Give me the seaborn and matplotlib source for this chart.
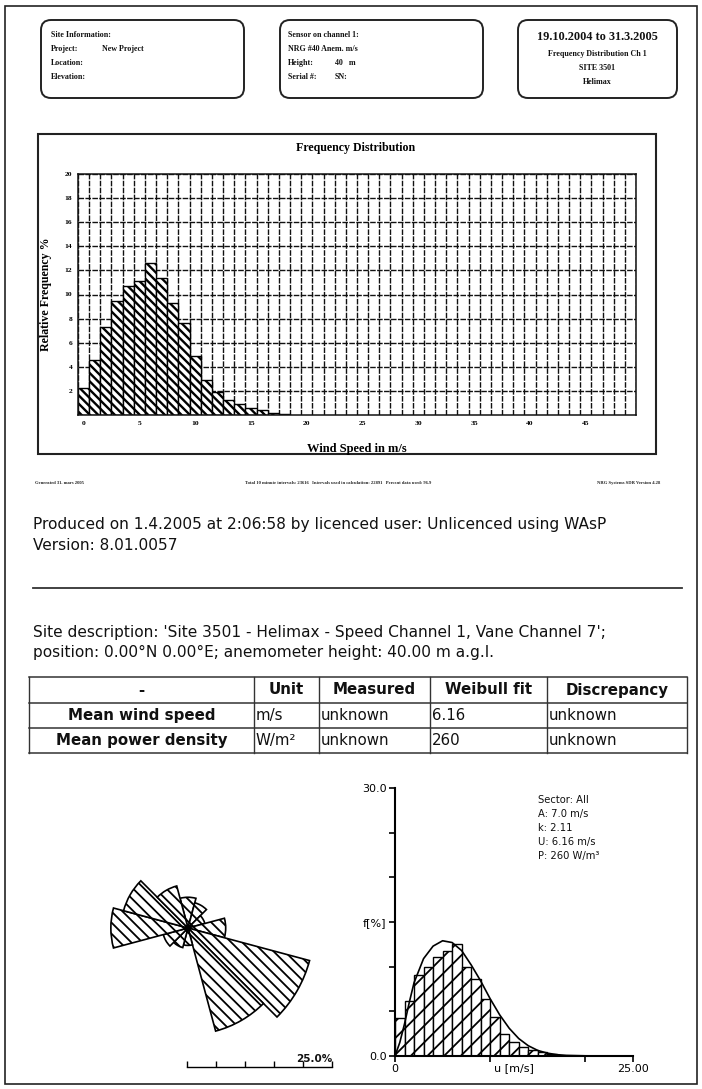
import numpy as np
import matplotlib
matplotlib.use("Agg")
import matplotlib.pyplot as plt
import seaborn as sns
from matplotlib.patches import FancyBboxPatch, Rectangle

# ---------------- data ----------------
freq_bins = list(range(19))                      # wind speed bin (m/s)
freq_values = [2.2, 4.6, 7.3, 9.5, 10.7, 11.1, 12.6, 11.4, 9.3, 7.6,
               4.9, 2.9, 1.9, 1.25, 0.9, 0.6, 0.4, 0.2, 0.1]
freq_xticks = [0, 5, 10, 15, 20, 25, 30, 35, 40, 45]
freq_yticks = [2, 4, 6, 8, 10, 12, 14, 16, 18, 20]
freq_nbins = 50

rose_dirs = [0, 30, 60, 90, 120, 150, 180, 210, 240, 270, 300, 330]
rose_freq = [5.3, 4.5, 3.0, 6.5, 21.7, 18.4, 3.0, 3.5, 4.4, 13.3, 11.5, 7.5]
rose_scale_ticks = [0, 5, 10, 15, 20, 25]

hist_speed = [0.5, 1.5, 2.5, 3.5, 4.5, 5.5, 6.5, 7.5, 8.5, 9.5, 10.5,
              11.5, 12.5, 13.5, 14.5, 15.5, 16.5]
hist_freq = [4.30, 6.13, 9.04, 9.98, 11.10, 11.73, 12.52, 9.98, 8.67, 6.43,
             4.37, 2.50, 1.57, 1.01, 0.71, 0.45, 0.26]
weib_u = [0, 0.5, 1, 1.5, 2, 3, 4, 5, 6, 7, 8, 9, 10, 11, 12, 13, 14, 15,
          16, 17, 18, 20, 25]
weib_f = [0, 1.5, 3.6, 6.0, 8.2, 10.9, 12.3, 12.9, 12.7, 11.8, 10.2, 8.4,
          6.4, 4.6, 3.1, 1.95, 1.15, 0.62, 0.32, 0.15, 0.07, 0.02, 0.0]
hist_yticks = [0, 5, 10, 15, 20, 25, 30]
hist_ylabels = ["0.0", "", "", "f[%]", "", "", "30.0"]
hist_xticks = [0, 10, 20, 25]
hist_xlabels = ["0", "", "", "25.00"]

weibull_text = ["Sector: All", "A: 7.0 m/s", "k: 2.11", "U: 6.16 m/s", "P: 260 W/m\u00b3"]

table_header = ["-", "Unit", "Measured", "Weibull fit", "Discrepancy"]
table_rows = [["Mean wind speed", "m/s", "unknown", "6.16", "unknown"],
              ["Mean power density", "W/m\u00b2", "unknown", "260", "unknown"]]

SERIF = ["Liberation Serif", "DejaVu Serif"]
SANS = ["DejaVu Sans"]

plt.rcParams["hatch.linewidth"] = 1.4
plt.rcParams["hatch.color"] = "black"
W, H = 702, 1089
fig = plt.figure(figsize=(W / 100, H / 100), dpi=100)
fig.patch.set_facecolor("white")

def frac(x0, y0, x1, y1):
    return [x0 / W, 1 - y1 / H, (x1 - x0) / W, (y1 - y0) / H]

# overlay in pixel coordinates
ov = fig.add_axes([0, 0, 1, 1])
ov.set_xlim(0, W)
ov.set_ylim(H, 0)
ov.axis("off")

ov.add_patch(Rectangle((5, 6), 692, 1078, fill=False, lw=1.2, ec="#222"))

# header boxes
for (x0, x1) in [(41, 244), (280, 483), (518, 677)]:
    ov.add_patch(FancyBboxPatch((x0, 20), x1 - x0, 78,
                                boxstyle="round,pad=0,rounding_size=10",
                                fill=False, lw=1.4, ec="#222"))
bt = dict(family=SERIF, weight="bold", fontsize=5.8, va="center", color="#111")
ov.text(51, 35, "Site Information:", **bt)
ov.text(51, 49, "Project:", **bt)
ov.text(102, 49, "New Project", **bt)
ov.text(51, 63, "Location:", **bt)
ov.text(51, 77, "Elevation:", **bt)
ov.text(288, 35, "Sensor on channel 1:", **bt)
ov.text(288, 49, "NRG #40 Anem. m/s", **bt)
ov.text(288, 63, "Height:", **bt)
ov.text(335, 63, "40   m", **bt)
ov.text(288, 77, "Serial #:", **bt)
ov.text(335, 77, "SN:", **bt)
ov.text(597, 37, "19.10.2004 to 31.3.2005", family=SERIF, weight="bold",
        fontsize=8.8, ha="center", va="center", color="#111")
ov.text(597, 54, "Frequency Distribution Ch 1", ha="center", **bt)
ov.text(597, 68, "SITE 3501", ha="center", **bt)
ov.text(597, 82, "Helimax", ha="center", **bt)

# frame around the frequency distribution chart
ov.add_patch(Rectangle((38, 134), 618, 320, fill=False, lw=1.5, ec="#222"))

# footer tiny text
ft = dict(family=SERIF, weight="bold", fontsize=3.3, va="center", color="#222")
ov.text(35, 483, "Generated 31. mars 2005", **ft)
ov.text(338, 483, "Total 10 minute intervals: 23616   Intervals used in calculation: 22891   "
        "Percent data used: 96.9", ha="center", **ft)
ov.text(660, 483, "NRG Systems SDR Version 4.28", ha="right", **ft)

# report text
rt = dict(family=SANS, fontsize=11.1, va="center", color="#111")
ov.text(33, 524, "Produced on 1.4.2005 at 2:06:58 by licenced user: Unlicenced using WAsP", **rt)
ov.text(33, 545, "Version: 8.01.0057", **rt)
ov.plot([33, 682], [588, 588], color="#333", lw=1.3)
ov.text(33, 633, "Site description: 'Site 3501 - Helimax - Speed Channel 1, Vane Channel 7';", **rt)
ov.text(33, 652, "position: 0.00\u00b0N 0.00\u00b0E; anemometer height: 40.00 m a.g.l.", **rt)

# table
cols = [29, 254, 319, 430, 547, 687]
rows = [677, 703, 728, 753]
for y in rows:
    ov.plot([cols[0], cols[-1]], [y, y], color="#333", lw=1.1)
for x in cols:
    ov.plot([x, x], [rows[0], rows[-1]], color="#333", lw=1.0)
for j, txt in enumerate(table_header):
    ov.text((cols[j] + cols[j + 1]) / 2, (rows[0] + rows[1]) / 2, txt, family=SANS,
            weight="bold", fontsize=10.8, ha="center", va="center", color="#111")
for i, row in enumerate(table_rows):
    yc = (rows[i + 1] + rows[i + 2]) / 2
    for j, txt in enumerate(row):
        if j == 0:
            ov.text((cols[0] + cols[1]) / 2, yc, txt, family=SANS, weight="bold",
                    fontsize=10.8, ha="center", va="center", color="#111")
        else:
            ov.text(cols[j] + 2, yc, txt, family=SANS, fontsize=10.8,
                    ha="left", va="center", color="#111")

# ---------------- frequency distribution chart ----------------
ax1 = fig.add_axes(frac(78, 174, 636, 415))
sns.histplot(x=freq_bins, weights=freq_values, discrete=True, ax=ax1,
             color="white", edgecolor="black", linewidth=1.0, alpha=1)
for p in ax1.patches:
    p.set_hatch("\\\\\\\\")
    p.set_edgecolor("black")
    p.set_zorder(2)
    if hasattr(p, "set_hatch_linewidth"):
        p.set_hatch_linewidth(1.7)
ax1.set_xlim(-0.5, freq_nbins - 0.5)
ax1.set_ylim(0, 20)
ax1.set_xticks(freq_xticks)
ax1.set_xticklabels([str(v) for v in freq_xticks])
ax1.set_xticks(np.arange(-0.5, freq_nbins, 1), minor=True)
ax1.set_yticks(freq_yticks)
ax1.set_yticklabels([str(v) for v in freq_yticks])
ax1.tick_params(axis="both", which="both", length=0, pad=4)
for lab in ax1.get_xticklabels() + ax1.get_yticklabels():
    lab.set_fontfamily(SERIF)
    lab.set_fontweight("bold")
    lab.set_fontsize(5.4)
ax1.set_axisbelow(True)
ax1.xaxis.grid(True, which="minor", color="#111", lw=1.0, linestyle=(0, (4, 1)))
ax1.xaxis.grid(False, which="major")
ax1.yaxis.grid(True, which="major", color="#111", lw=1.0, linestyle=(0, (4, 1)))
for s in ax1.spines.values():
    s.set_linewidth(1.1)
    s.set_color("#111")
ax1.set_xlabel("Wind Speed in m/s", family=SERIF, weight="bold", fontsize=9)
ax1.xaxis.set_label_coords(0.5, -0.115)
ax1.set_ylabel("Relative Frequency %", family=SERIF, weight="bold", fontsize=8.6)
ax1.yaxis.set_label_coords(-0.047, 0.5)
ax1.text(0.498, (415 - 148) / 241, "Frequency Distribution", transform=ax1.transAxes,
         family=SERIF, weight="bold", fontsize=8.6, ha="center", va="center")

# ---------------- wind rose ----------------
axr = fig.add_axes(frac(43, 783, 333, 1073), projection="polar")
axr.set_theta_zero_location("N")
axr.set_theta_direction(-1)
bars = axr.bar(np.deg2rad(rose_dirs), rose_freq, width=np.deg2rad(30), bottom=0,
               color="white", edgecolor="black", linewidth=1.2, hatch="\\\\\\",
               align="center")
for b in bars:
    if hasattr(b, "set_hatch_linewidth"):
        b.set_hatch_linewidth(1.3)
axr.set_ylim(0, 25)
axr.set_axis_off()

axs = fig.add_axes(frac(187, 1057, 332, 1067))
axs.set_xlim(0, 25)
axs.set_ylim(0, 1)
axs.set_xticks(rose_scale_ticks)
axs.set_xticklabels([])
axs.set_yticks([])
axs.tick_params(axis="x", direction="in", length=4, width=1.0)
for k in ["top", "left", "right"]:
    axs.spines[k].set_visible(False)
axs.spines["bottom"].set_linewidth(1.0)
axs.patch.set_alpha(0)
ov.text(332, 1059, "25.0%", family=SANS, fontsize=7.5, weight="bold",
        ha="right", va="center", color="#111")

# ---------------- Weibull histogram ----------------
axh = fig.add_axes(frac(395, 788, 633, 1056))
sns.histplot(x=hist_speed, weights=hist_freq, binwidth=1, binrange=(0, len(hist_speed)),
             ax=axh, color="white", edgecolor="black", linewidth=1.0, alpha=1)
for p in axh.patches:
    p.set_hatch("//")
    p.set_edgecolor("black")
    if hasattr(p, "set_hatch_linewidth"):
        p.set_hatch_linewidth(1.3)
sns.lineplot(x=weib_u, y=weib_f, ax=axh, color="black", lw=1.2)
axh.set_xlim(0, 25)
axh.set_ylim(0, 30)
axh.set_yticks(hist_yticks)
axh.set_yticklabels(hist_ylabels)
axh.set_xticks(hist_xticks)
axh.set_xticklabels(hist_xlabels)
axh.set_xticks([12.5], minor=True)
axh.set_xticklabels(["u [m/s]"], minor=True)
axh.tick_params(axis="x", which="minor", length=0, pad=5)
axh.tick_params(axis="both", which="major", direction="out", length=4, width=1.2, pad=2)
for lab in (axh.get_xticklabels() + axh.get_yticklabels()
            + axh.get_xticklabels(minor=True)):
    lab.set_fontfamily(SANS)
    lab.set_fontsize(8)
axh.set_xlabel("")
axh.set_ylabel("")
for k in ["top", "right"]:
    axh.spines[k].set_visible(False)
for k in ["left", "bottom"]:
    axh.spines[k].set_linewidth(1.5)
axh.patch.set_alpha(0)
for i, t in enumerate(weibull_text):
    ov.text(538, 800 + 14 * i, t, family=SANS, fontsize=7.2, va="center", color="#111")

fig.savefig("out.png", dpi=100, facecolor="white")
